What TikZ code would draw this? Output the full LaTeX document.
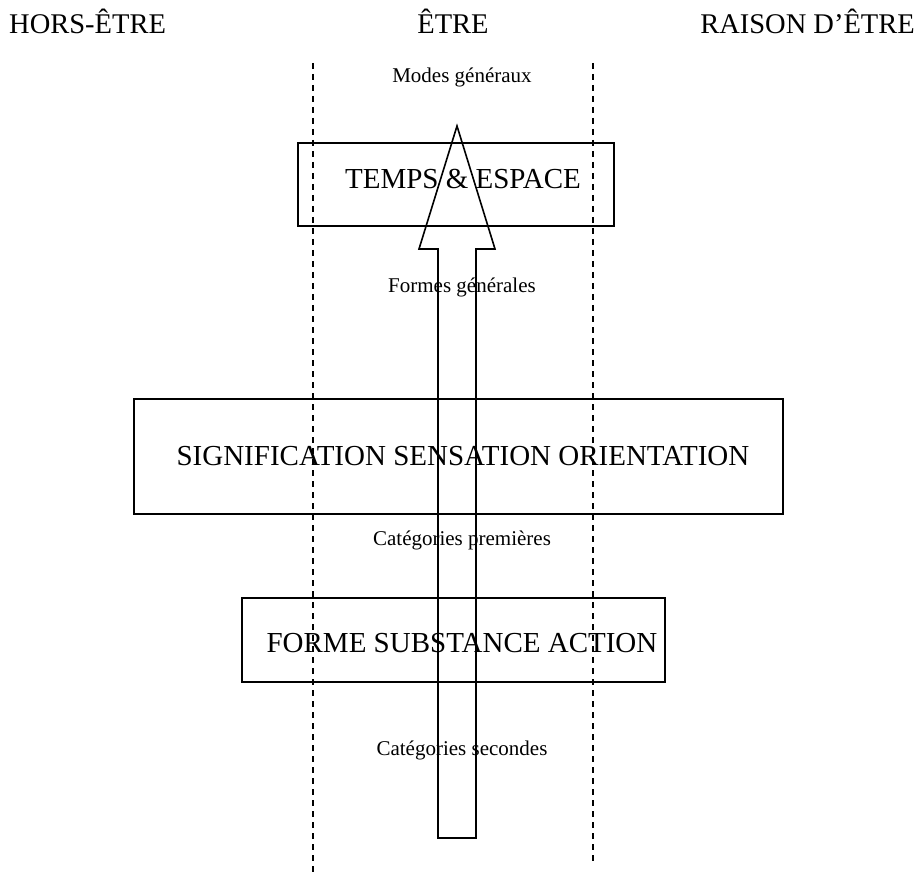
\documentclass[tikz,border=0pt]{standalone}
\usepackage{fontspec}
\setmainfont{Liberation Serif}
\begin{document}
\begin{tikzpicture}[x=1pt,y=-1pt,
  box/.style={draw, line width=1.6pt, inner sep=0pt},
  boxtext/.style={inner sep=0pt, anchor=base, font=\fontsize{29}{34}\selectfont},
  title/.style={inner sep=0pt, anchor=base, font=\fontsize{28.5}{33}\selectfont},
  lbl/.style={inner sep=0pt, anchor=base, font=\fontsize{21}{25}\selectfont},
  guide/.style={line width=1.4pt, dash pattern=on 6pt off 5pt},
  arrowline/.style={line width=1.6pt, fill=none}]
\useasboundingbox (0,0) rectangle (918,877);
% titles
\node[title, anchor=base west] (t1) at (9,34) {HORS-ÊTRE};
\node[title] (t2) at (453,34) {ÊTRE};
\node[title, anchor=base east] (t3) at (915,34) {RAISON D’ÊTRE};
% dashed guide lines
\coordinate (l1) at (313,63); \coordinate (l2) at (313,877);
\coordinate (r1) at (593,63); \coordinate (r2) at (593,865);
\draw[guide] (l1) -- (l2);
\draw[guide] (r1) -- (r2);
% boxes
\node[box, minimum width=316pt, minimum height=83pt] (b1) at (456,184.5) {};
\node[boxtext] (b1t) at (463,189) {TEMPS \& ESPACE};
\node[box, minimum width=649pt, minimum height=115pt] (b2) at (458.5,456.5) {};
\node[boxtext] (b2t) at (463,465) {SIGNIFICATION SENSATION ORIENTATION};
\node[box, minimum width=423pt, minimum height=84pt] (b3) at (453.5,640) {};
\node[boxtext] (b3t) at (462,652) {FORME SUBSTANCE ACTION};
% labels
\node[lbl] (m1) at (462,83) {Modes généraux};
\node[lbl] (m2) at (462,293) {Formes générales};
\node[lbl] (m3) at (462,545) {Catégories premières};
\node[lbl] (m4) at (462,755) {Catégories secondes};
% big arrow
\coordinate (tip) at (457,126);
\coordinate (hr) at (495,249);
\coordinate (sr) at (476,249);
\coordinate (br) at (476,838);
\coordinate (bl) at (438,838);
\coordinate (sl) at (438,249);
\coordinate (hl) at (419,249);
\draw[arrowline, line join=miter] (tip) -- (hr) -- (sr) -- (br) -- (bl) -- (sl) -- (hl) -- cycle;
\end{tikzpicture}
\end{document}
